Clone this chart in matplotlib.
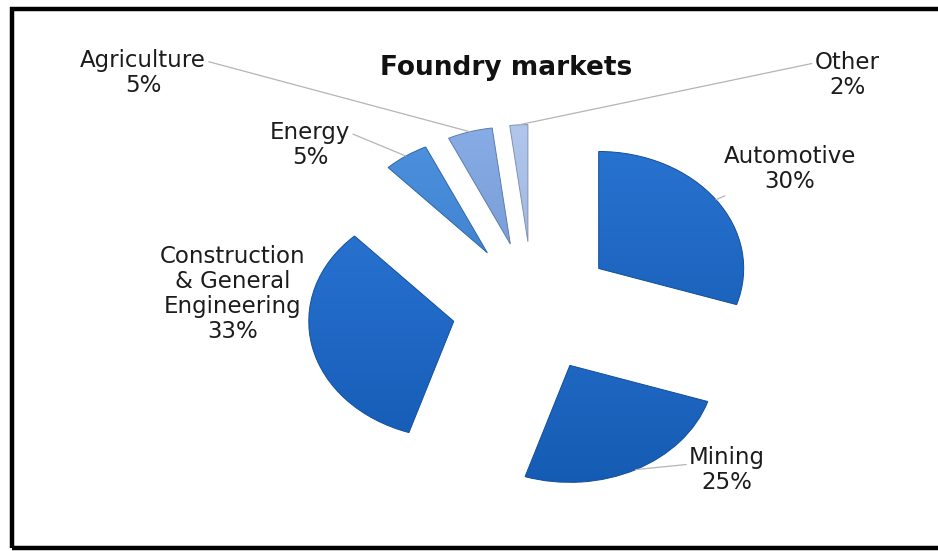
import numpy as np
import matplotlib
matplotlib.use("Agg")
import matplotlib.pyplot as plt
from matplotlib.patches import Rectangle
from matplotlib.colors import to_rgb


#######################
#   DATA
#######################

sectors = ["Automotive", "Mining", "Construction\n& General\nEngineering",
           "Energy", "Agriculture", "Other"]
shares = [30, 25, 33, 5, 5, 2]
slice_colors = ["#1868cc", "#1868cc", "#1a6ad0", "#3f88dc", "#7ea6e4", "#abc2ec"]

# label centres in pixels (x from left, y from top) and where the leader leaves the text box
label_pos = [(790, 169), (727, 470), (233, 294), (310, 145), (143, 73), (847, 75)]
leader_rel = [(0.18, 0.15), (0.0, 0.62), None, (1.0, 0.75), (1.0, 0.75), (0.0, 0.75)]


#######################
#   FIGURE
#######################

W, H = 938, 551
fig = plt.figure(figsize=(W / 100, H / 100), dpi=100)
fig.patch.set_facecolor("white")
ax = fig.add_axes([0, 0, 1, 1])

edge_colors = [tuple(np.array(to_rgb(c)) * 0.75) for c in slice_colors]
wedges, _ = ax.pie(shares, explode=[0.56] * len(shares), startangle=90,
                   counterclock=False, colors=slice_colors,
                   wedgeprops=dict(linewidth=0.7))

# gentle top-to-bottom shading on every slice
for w, c, ec in zip(wedges, slice_colors, edge_colors):
    w.set_edgecolor(ec)
    base = np.array(to_rgb(c))
    top = base * 0.93 + 0.07
    bottom = base * 0.88
    t = np.linspace(0, 1, 128)[:, None, None]
    img = top * (1 - t) + bottom * t
    x0, y0 = w.center
    r = w.r
    im = ax.imshow(img, extent=(x0 - r, x0 + r, y0 - r, y0 + r), origin="upper",
                   aspect="auto", interpolation="bicubic", zorder=w.get_zorder() + 0.1)
    im.set_clip_path(w)
    w.set_zorder(w.get_zorder() + 0.2)
    w.set_facecolor("none")

# pie is drawn stretched: 145 px across, 117 px tall, centre at (533, 307)
rx, ry, cx, cy = 145, 117, 533, 307
ax.set_aspect("auto")
ax.set_xlim(-cx / rx, (W - cx) / rx)
ax.set_ylim(-(H - cy) / ry, cy / ry)
ax.axis("off")


def fig_frac(px, py):
    return px / W, 1 - py / H


text_style = dict(fontsize=16.5, family="DejaVu Sans", color="#1c1c1c",
                  ha="center", va="center", linespacing=1.12)

for w, name, share, pos, rel in zip(wedges, sectors, shares, label_pos, leader_rel):
    label = f"{name}\n{share}%"
    mid = np.deg2rad((w.theta1 + w.theta2) / 2)
    tip = (w.center[0] + w.r * np.cos(mid), w.center[1] + w.r * np.sin(mid))
    if rel is None:
        ax.text(*fig_frac(*pos), label, transform=fig.transFigure, **text_style)
    else:
        ax.annotate(label, xy=tip, xytext=fig_frac(*pos), textcoords="figure fraction",
                    arrowprops=dict(arrowstyle="-", color="#b5b5b5", lw=0.9,
                                    relpos=rel, shrinkA=0, shrinkB=0),
                    **text_style)

fig.text(506 / W, 1 - 68 / H, "Foundry markets", fontsize=19, fontweight="bold",
         family="DejaVu Sans", color="#111111", ha="center", va="center")

# black frame round the chart
fig.add_artist(Rectangle((12 / W, 3 / H), (W + 20) / W, 539.5 / H,
                         transform=fig.transFigure, fill=False,
                         edgecolor="black", linewidth=3.2, clip_on=False))

fig.savefig("out.png", dpi=100, facecolor="white")
